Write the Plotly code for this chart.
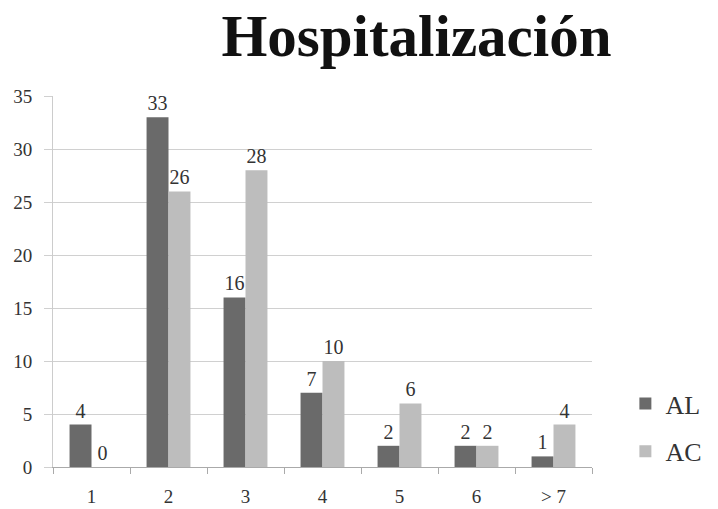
import plotly.graph_objects as go

categories = ["1", "2", "3", "4", "5", "6", "> 7"]
al_values = [4, 33, 16, 7, 2, 2, 1]
ac_values = [0, 26, 28, 10, 6, 2, 4]
y_ticks = [0, 5, 10, 15, 20, 25, 30, 35]

SERIF = "Liberation Serif, Times New Roman, serif"

fig = go.Figure()
fig.add_trace(go.Bar(
    x=categories, y=al_values, name="AL", legendgroup="al",
    marker=dict(color="#6a6a6a", line=dict(width=0)),
    text=[str(v) for v in al_values], textposition="outside",
    textfont=dict(family=SERIF, size=20, color="#333333"),
    cliponaxis=False,
))
fig.add_trace(go.Bar(
    x=categories, y=ac_values, name="AC", legendgroup="ac",
    marker=dict(color="#bdbdbd", line=dict(width=0)),
    text=[str(v) for v in ac_values], textposition="outside",
    textfont=dict(family=SERIF, size=20, color="#333333"),
    cliponaxis=False,
))

fig.update_layout(
    width=718, height=509,
    margin=dict(l=53, r=126, t=96, b=42, autoexpand=False),
    paper_bgcolor="white", plot_bgcolor="white",
    barmode="group", bargap=0.43, bargroupgap=0.0,
    title=dict(text="<b>Hospitalización</b>", x=0.58, xanchor="center",
               y=0.93, yanchor="middle",
               font=dict(family=SERIF, size=59, color="#111111")),
    font=dict(family=SERIF, color="#333333"),
    legend=dict(xref="container", yref="container", x=0.871, y=0.16,
                xanchor="left", yanchor="middle",
                font=dict(family=SERIF, size=26, color="#333333"),
                itemwidth=30, tracegroupgap=11, bgcolor="rgba(0,0,0,0)"),
    xaxis=dict(
        type="category", tickson="boundaries", ticks="outside", ticklen=6,
        tickcolor="#aaaaaa", showline=True, linecolor="#aaaaaa", linewidth=1,
        showgrid=False, ticklabelstandoff=12,
        tickfont=dict(family=SERIF, size=19, color="#333333"),
    ),
    yaxis=dict(
        range=[0, 35], tickvals=y_ticks, showgrid=True, gridcolor="#d0d0d0",
        gridwidth=1, showline=True, linecolor="#cccccc", ticks="outside",
        ticklen=8, tickcolor="#d0d0d0", zeroline=False, ticklabelstandoff=8,
        tickfont=dict(family=SERIF, size=19, color="#333333"),
    ),
)

fig.write_html("out.html")
